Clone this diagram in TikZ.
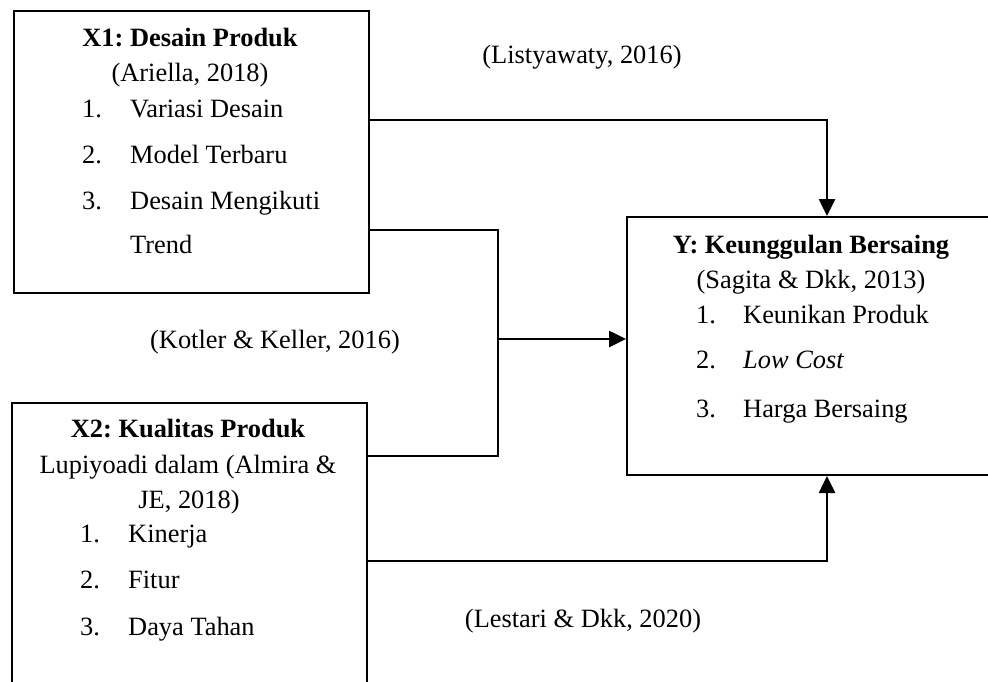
\documentclass[tikz,border=0pt]{standalone}
\usepackage{fontspec}
\setmainfont{Liberation Serif}
\usetikzlibrary{arrows.meta}
\frenchspacing
\begin{document}
\begin{tikzpicture}[x=1pt,y=-1pt,
  txt/.style={inner sep=0pt, font=\fontsize{26.4}{30}\selectfont},
  box/.style={draw, line width=2pt, inner sep=0pt, anchor=north west},
  conn/.style={line width=2.6pt},
  arr/.style={conn, -{Triangle[length=17pt,width=16pt]}}]
\useasboundingbox (0,0) rectangle (988,681);
\clip (0,0) rectangle (988,681);
% boxes
\node[box, minimum width=355pt, minimum height=282pt] (x1) at (13,10) {};
\node[box, minimum width=355pt, minimum height=300pt] (x2) at (11,402) {};
\node[box, minimum width=372pt, minimum height=258pt] (y) at (626,216) {};
% X1 text
\node[txt, anchor=base] (x1t) at (190,46) {\textbf{X1: Desain Produk}};
\node[txt, anchor=base] (x1c) at (190,81) {(Ariella, 2018)};
\node[txt, anchor=base west] (x1n1) at (82,117) {1.};
\node[txt, anchor=base west] (x1i1) at (130,117) {Variasi Desain};
\node[txt, anchor=base west] (x1n2) at (82,163) {2.};
\node[txt, anchor=base west] (x1i2) at (130,163) {Model Terbaru};
\node[txt, anchor=base west] (x1n3) at (82,209) {3.};
\node[txt, anchor=base west] (x1i3) at (130,209) {Desain Mengikuti};
\node[txt, anchor=base west] (x1i4) at (130,253) {Trend};
% X2 text
\node[txt, anchor=base] (x2t) at (188,437) {\textbf{X2: Kualitas Produk}};
\node[txt, anchor=base] (x2c) at (188,473) {Lupiyoadi dalam (Almira \&};
\node[txt, anchor=base] (x2d) at (189,508) {JE, 2018)};
\node[txt, anchor=base west] (x2n1) at (80,542) {1.};
\node[txt, anchor=base west] (x2i1) at (128,542) {Kinerja};
\node[txt, anchor=base west] (x2n2) at (80,588) {2.};
\node[txt, anchor=base west] (x2i2) at (128,588) {Fitur};
\node[txt, anchor=base west] (x2n3) at (80,635) {3.};
\node[txt, anchor=base west] (x2i3) at (128,635) {Daya Tahan};
% Y text
\node[txt, anchor=base] (yt) at (811,253) {\textbf{Y: Keunggulan Bersaing}};
\node[txt, anchor=base] (yc) at (811,288) {(Sagita \& Dkk, 2013)};
\node[txt, anchor=base west] (yn1) at (696,323) {1.};
\node[txt, anchor=base west] (yi1) at (743,323) {Keunikan Produk};
\node[txt, anchor=base west] (yn2) at (696,368) {2.};
\node[txt, anchor=base west] (yi2) at (743,368) {\textit{Low Cost}};
\node[txt, anchor=base west] (yn3) at (696,417) {3.};
\node[txt, anchor=base west] (yi3) at (743,417) {Harga Bersaing};
% labels
\node[txt, anchor=base] (l1) at (582,63) {(Listyawaty, 2016)};
\node[txt, anchor=base] (l2) at (275,348) {(Kotler \& Keller, 2016)};
\node[txt, anchor=base] (l3) at (583,627) {(Lestari \& Dkk, 2020)};
% routing coordinates
\coordinate (r1) at (0,120);
\coordinate (r2) at (0,230);
\coordinate (r3) at (0,456);
\coordinate (r4) at (0,561);
\coordinate (rm) at (0,339);
\coordinate (c1) at (827,0);
\coordinate (cj) at (498,0);
% connectors
\draw[arr] (x1.east |- r1) -| (y.north -| c1);
\draw[conn] (x1.east |- r2) -| (cj |- rm);
\draw[conn] (x2.east |- r3) -| (cj |- rm);
\draw[arr] (cj |- rm) -- (y.west |- rm);
\draw[arr] (x2.east |- r4) -| (y.south -| c1);
\end{tikzpicture}
\end{document}
